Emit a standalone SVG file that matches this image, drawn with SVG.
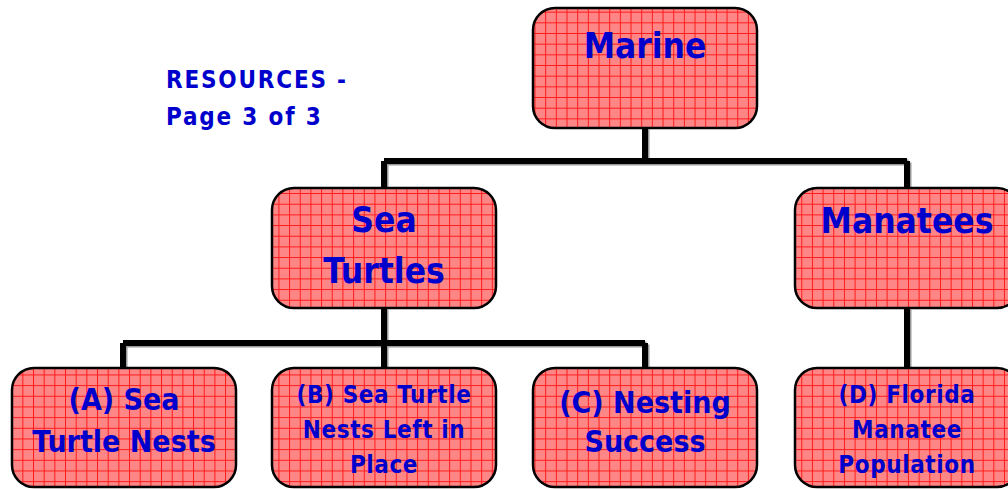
<svg xmlns="http://www.w3.org/2000/svg" width="1008" height="489" viewBox="0 0 1008 489">
<defs>
<pattern id="grid" patternUnits="userSpaceOnUse" width="10.67" height="10.67" x="1" y="1">
<rect width="10.67" height="10.67" fill="#ff8686"/>
<path d="M0 0.5H10.67M0.5 0V10.67" stroke="#ff1a1a" stroke-width="1" fill="none"/>
</pattern>
</defs>
<style>
.box{fill:url(#grid);stroke:#000;stroke-width:2.5}
.t{font-family:"DejaVu Sans Condensed","DejaVu Sans",sans-serif;font-stretch:condensed;font-weight:bold;fill:#0000cc;text-anchor:middle}
.l1{font-size:35px}
.l2{font-size:30px}
.l3{font-size:24px;letter-spacing:0.6px}
.hdr{font-family:"DejaVu Sans Condensed","DejaVu Sans",sans-serif;font-stretch:condensed;font-weight:bold;fill:#0000cc;font-size:24px;letter-spacing:1.8px}
.sh{fill:none;stroke:#999;stroke-width:6}
.cn{fill:none;stroke:#000;stroke-width:6}
</style>
<rect width="1008" height="489" fill="#fff"/>
<text class="hdr" x="166" y="88">RESOURCES -</text>
<text class="hdr" x="166" y="125">Page 3 of 3</text>
<g id="connectors">
<g transform="translate(1.5,1.5)">
<path class="sh" d="M645 128V161M384 161H907M384 161V188M907 161V188M384 308V343M123 343H645M123 343V368M384 343V368M645 343V368M907 308V368"/>
</g>
<path class="cn" d="M645 128V161M384 161H907M384 161V188M907 161V188M384 308V343M123 343H645M123 343V368M384 343V368M645 343V368M907 308V368"/>
</g>
<g id="marine">
<rect class="box" x="533" y="8" width="224" height="120" rx="22"/>
<text class="t l1" x="645" y="58">Marine</text>
</g>
<g id="sea-turtles">
<rect class="box" x="272" y="188" width="224" height="120" rx="22"/>
<text class="t l1" x="384" y="232">Sea</text>
<text class="t l1" x="384" y="283">Turtles</text>
</g>
<g id="manatees">
<rect class="box" x="795" y="188" width="224" height="120" rx="22"/>
<text class="t l1" x="907" y="233">Manatees</text>
</g>
<g id="node-a">
<rect class="box" x="12" y="368" width="224" height="119" rx="22"/>
<text class="t l2" x="124" y="410">(A) Sea</text>
<text class="t l2" x="124" y="452">Turtle Nests</text>
</g>
<g id="node-b">
<rect class="box" x="272" y="368" width="224" height="119" rx="22"/>
<text class="t l3" x="384" y="403">(B) Sea Turtle</text>
<text class="t l3" x="384" y="438">Nests Left in</text>
<text class="t l3" x="384" y="473">Place</text>
</g>
<g id="node-c">
<rect class="box" x="533" y="368" width="224" height="119" rx="22"/>
<text class="t l2" x="645" y="413">(C) Nesting</text>
<text class="t l2" x="645" y="452">Success</text>
</g>
<g id="node-d">
<rect class="box" x="795" y="368" width="224" height="119" rx="22"/>
<text class="t l3" x="907" y="403">(D) Florida</text>
<text class="t l3" x="907" y="438">Manatee</text>
<text class="t l3" x="907" y="473">Population</text>
</g>
</svg>
